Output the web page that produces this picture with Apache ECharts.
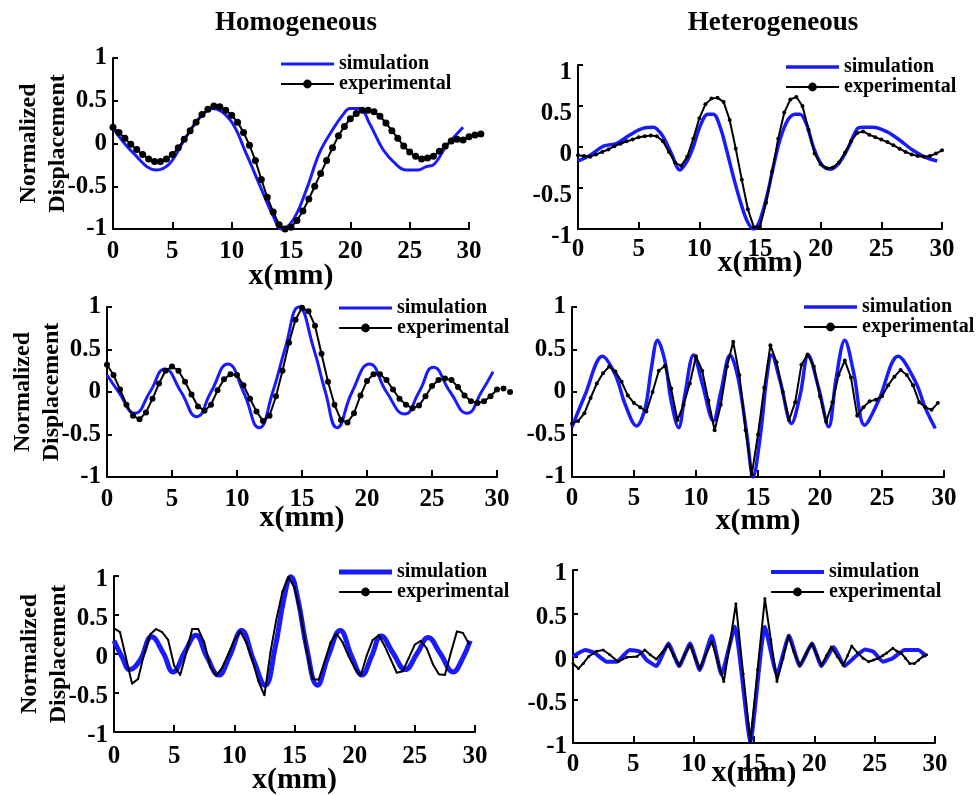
<!DOCTYPE html>
<html>
<head>
<meta charset="utf-8">
<script src="https://cdn.jsdelivr.net/npm/echarts@6/dist/echarts.min.js"></script>
<style>
html, body { margin: 0; padding: 0; background: #fff; }
#myChart { width: 980px; height: 795px; }
</style>
</head>
<body>
<div id="myChart"></div>
<script>
// ---- data (x in mm, normalized displacement) ----
var xTicks = [0, 5, 10, 15, 20, 25, 30];
var yTicks = [-1, -0.5, 0, 0.5, 1];
var expStep = 0.5; // experimental samples are listed every 0.5 mm from x = 0

// top-left: homogeneous
var sim1X = [0, 1.7, 3.65, 4.8, 6.0, 7.3, 8.4, 9.9, 11.2, 12.4, 13.5, 14.2, 15.2, 16.3, 17.4, 18.5, 19.4, 19.95, 20.8, 21.6, 22.75, 23.9, 24.7, 25.7, 26.4, 27.0, 28.1, 29.5];
var sim1Y = [0.18, -0.11, -0.31, -0.23, 0.04, 0.30, 0.41, 0.27, -0.11, -0.5, -0.85, -1.0, -0.89, -0.54, -0.11, 0.16, 0.34, 0.41, 0.41, 0.24, -0.07, -0.25, -0.31, -0.31, -0.27, -0.25, -0.03, 0.19];
var exp1 = [0.19, 0.13, 0.06, -0.01, -0.07, -0.13, -0.18, -0.21, -0.21, -0.18,
  -0.13, -0.05, 0.05, 0.15, 0.25, 0.34, 0.40, 0.44, 0.43, 0.39,
  0.33, 0.25, 0.13, -0.02, -0.20, -0.42, -0.63, -0.80, -0.95, -1.00,
  -0.98, -0.90, -0.79, -0.65, -0.50, -0.35, -0.20, -0.05, 0.09, 0.20,
  0.29, 0.35, 0.39, 0.39, 0.37, 0.32, 0.24, 0.15, 0.06, -0.03,
  -0.10, -0.15, -0.18, -0.17, -0.15, -0.09, -0.03, 0.03, 0.05, 0.04,
  0.08, 0.10, 0.11];

// top-right: heterogeneous
var sim2X = [0, 1.0, 2.1, 3.2, 4.3, 5.4, 6.2, 6.5, 7.0, 7.7, 8.4, 9.0, 9.5, 10.05, 10.7, 11.15, 11.7, 12.25, 12.8, 13.35, 13.9, 14.45, 14.9, 15.55, 16.1, 16.65, 17.3, 17.9, 18.3, 18.85, 19.4, 20.1, 20.8, 21.5, 22.3, 23.0, 23.5, 24.3, 25.4, 26.5, 27.6, 28.7, 29.6];
var sim2Y = [-0.17, -0.10, 0.01, 0.045, 0.15, 0.23, 0.24, 0.22, 0.13, -0.08, -0.28, -0.17, 0.0, 0.25, 0.40, 0.40, 0.25, -0.04, -0.36, -0.65, -0.89, -1.0, -0.93, -0.61, -0.24, 0.09, 0.33, 0.40, 0.40, 0.27, 0.0, -0.22, -0.27, -0.2, 0.0, 0.22, 0.24, 0.24, 0.19, 0.085, -0.04, -0.13, -0.17];
var exp2 = [-0.10, -0.11, -0.12, -0.09, -0.06, -0.03, 0.01, 0.04, 0.07, 0.09,
  0.12, 0.13, 0.14, 0.13, 0.07, -0.06, -0.19, -0.23, -0.12, 0.10,
  0.35, 0.52, 0.59, 0.60, 0.55, 0.33, -0.02, -0.40, -0.76, -0.98,
  -0.97, -0.68, -0.30, 0.10, 0.42, 0.58, 0.61, 0.50, 0.21, -0.08,
  -0.21, -0.26, -0.25, -0.19, -0.07, 0.07, 0.17, 0.19, 0.15, 0.12,
  0.09, 0.06, 0.02, -0.02, -0.06, -0.09, -0.11, -0.12, -0.11, -0.08,
  -0.04];

// middle-left: homogeneous
var sim3X = [0, 0.9, 2.15, 3.3, 4.45, 5.7, 6.9, 8.0, 9.3, 10.5, 11.7, 12.75, 13.7, 14.75, 15.9, 16.8, 17.7, 18.85, 20.2, 21.5, 22.9, 24.0, 25.1, 26.4, 27.7, 28.8, 29.7];
var sim3Y = [0.20, 0.0, -0.25, 0.0, 0.27, 0.0, -0.29, 0.0, 0.33, 0.0, -0.42, 0.0, 0.51, 1.0, 0.51, 0.0, -0.42, 0.0, 0.33, 0.0, -0.26, 0.0, 0.29, 0.0, -0.25, 0.0, 0.24];
var exp3 = [0.32, 0.20, 0.03, -0.15, -0.28, -0.32, -0.24, -0.08, 0.10, 0.25,
  0.30, 0.25, 0.12, -0.03, -0.17, -0.22, -0.15, 0.02, 0.15, 0.21,
  0.20, 0.08, -0.08, -0.23, -0.34, -0.28, -0.05, 0.25, 0.58, 0.85,
  0.99, 0.95, 0.78, 0.45, 0.12, -0.15, -0.33, -0.36, -0.25, -0.04,
  0.13, 0.21, 0.21, 0.14, 0.03, -0.08, -0.15, -0.19, -0.16, -0.05,
  0.07, 0.14, 0.16, 0.14, 0.06, -0.04, -0.11, -0.13, -0.11, -0.05,
  0.03, 0.04, 0.00];

// middle-right: heterogeneous
var sim4X = [0, 1.05, 2.45, 3.5, 4.3, 5.2, 5.9, 6.4, 6.9, 7.5, 8.0, 8.6, 9.1, 9.8, 10.5, 11.4, 12.0, 12.75, 13.4, 14.1, 14.6, 15.2, 15.7, 16.1, 16.8, 17.7, 18.4, 19.05, 19.9, 20.7, 21.3, 22.0, 22.7, 23.6, 24.7, 26.3, 27.7, 28.5, 29.3];
var sim4Y = [-0.41, -0.035, 0.42, 0.2, -0.15, -0.40, -0.19, 0.28, 0.61, 0.36, -0.11, -0.42, -0.035, 0.435, 0.10, -0.34, 0.0, 0.435, 0.16, -0.5, -1.0, -0.5, 0.16, 0.435, 0.12, -0.37, -0.035, 0.435, 0.04, -0.41, 0.16, 0.61, 0.24, -0.39, -0.11, 0.42, 0.12, -0.19, -0.43];
var exp4 = [-0.37, -0.34, -0.25, -0.07, 0.10, 0.22, 0.30, 0.24, 0.12, -0.04,
  -0.13, -0.18, -0.23, 0.00, 0.25, 0.31, 0.04, -0.33, -0.15, 0.10,
  0.42, 0.25, -0.10, -0.45, -0.15, 0.30, 0.59, 0.20, -0.45, -0.97,
  -0.50, 0.05, 0.55, 0.35, 0.00, -0.33, -0.12, 0.32, 0.44, 0.30,
  -0.05, -0.35, -0.12, 0.20, 0.37, 0.17, -0.28, -0.18, -0.11, -0.09,
  -0.05, 0.08, 0.18, 0.26, 0.20, 0.08, -0.12, -0.18, -0.21, -0.13];

// bottom-left: homogeneous
var sim5X = [0, 0.64, 1.33, 2.16, 3.13, 4.1, 4.9, 5.9, 6.8, 7.7, 8.7, 9.6, 10.6, 11.6, 12.55, 13.4, 14.1, 14.7, 15.3, 16.0, 16.9, 17.8, 18.8, 19.75, 20.6, 21.4, 22.2, 23.2, 24.2, 25.2, 26.1, 27.1, 28.2, 28.9, 29.6];
var sim5Y = [0.17, -0.03, -0.2, -0.08, 0.22, 0.01, -0.23, 0.03, 0.24, -0.03, -0.27, -0.03, 0.30, -0.08, -0.40, 0.09, 0.69, 0.99, 0.69, 0.09, -0.40, -0.03, 0.30, -0.03, -0.27, -0.03, 0.23, 0.01, -0.2, 0.01, 0.21, 0.01, -0.23, -0.08, 0.17];
var exp5 = [0.33, 0.28, -0.05, -0.38, -0.32, 0.00, 0.25, 0.32, 0.28, 0.18,
  -0.15, -0.27, 0.01, 0.32, 0.32, 0.15, -0.16, -0.28, -0.17, 0.00,
  0.18, 0.29, 0.14, -0.08, -0.35, -0.53, 0.02, 0.45, 0.80, 0.99,
  0.85, 0.52, 0.05, -0.32, -0.33, -0.10, 0.15, 0.26, 0.15, -0.03,
  -0.18, -0.28, -0.02, 0.18, 0.24, 0.10, -0.07, -0.24, -0.22, -0.05,
  0.12, 0.17, 0.07, -0.13, -0.26, -0.27, 0.02, 0.29, 0.27, 0.13];

// bottom-right: heterogeneous (experimental listed with its own x positions)
var sim6X = [0, 1.0, 1.8, 2.8, 3.6, 4.7, 5.55, 6.1, 6.9, 7.9, 8.8, 9.7, 10.5, 11.5, 12.3, 13.4, 14.7, 15.9, 16.9, 17.9, 18.8, 19.8, 20.6, 21.6, 22.5, 23.4, 24.2, 24.9, 25.7, 26.5, 27.5, 28.6, 29.3];
var sim6Y = [0.0, 0.075, 0.04, -0.06, -0.06, 0.075, 0.055, -0.04, -0.11, 0.15, -0.11, 0.15, -0.155, 0.24, -0.21, 0.345, -0.985, 0.345, -0.21, 0.24, -0.11, 0.15, -0.11, 0.11, -0.11, 0.0, 0.08, 0.055, -0.06, -0.02, 0.075, 0.075, 0.0];
var exp6X = [0, 0.45, 0.85, 1.3, 1.95, 2.5, 3.05, 3.75, 4.45, 5.3, 5.95, 6.4, 6.9, 7.4, 7.9, 8.35, 8.8, 9.25, 9.7, 10.1, 10.5, 11.0, 11.5, 12.0, 12.5, 13.0, 13.5, 14.1, 14.7, 15.3, 15.9, 16.4, 16.9, 17.4, 17.85, 18.3, 18.8, 19.3, 19.8, 20.2, 20.6, 21.0, 21.4, 21.9, 22.4, 22.75, 23.1, 23.6, 24.05, 24.5, 24.9, 25.3, 25.65, 26.0, 26.5, 26.85, 27.2, 27.55, 27.9, 28.3, 28.65, 29.0, 29.3];
var exp6Y = [-0.08, -0.14, -0.08, 0.0, 0.06, 0.075, 0.02, -0.06, -0.01, 0.0, 0.075, 0.02, -0.03, 0.05, 0.13, 0.01, -0.10, 0.02, 0.13, -0.01, -0.14, 0.02, 0.17, -0.06, -0.29, 0.15, 0.61, -0.20, -0.985, -0.15, 0.67, 0.19, -0.29, -0.02, 0.24, 0.06, -0.10, 0.03, 0.15, 0.02, -0.10, 0.01, 0.11, 0.0, -0.10, 0.01, 0.12, 0.04, -0.02, -0.06, -0.04, -0.02, 0.01, 0.04, 0.095, 0.06, 0.04, -0.02, -0.08, -0.08, -0.04, 0.0, 0.02];

var colTitles = ['Homogeneous', 'Heterogeneous'];
var simName = 'simulation';
var expName = 'experimental';

// helpers
function zip(xs, ys) {
  return xs.map(function (x, i) { return [x, ys[i]]; });
}
function sampled(ys) {
  return ys.map(function (y, i) { return [i * expStep, y]; });
}

// ---- panel layout (pixels) ----
var panels = [
  { grid: { left: 113, top: 58, width: 356, height: 171 }, sim: zip(sim1X, sim1Y), exp: sampled(exp1),
    lblMargin: 10, nameGap: 32, yOff: 0, legend: { left: 275, top: 49 }, dot: 7, simW: 3, smooth: 0.4, yName: true },
  { grid: { left: 578, top: 65, width: 364, height: 164 }, sim: zip(sim2X, sim2Y), exp: sampled(exp2),
    lblMargin: 8, nameGap: 19, yOff: 8, legend: { left: 780, top: 52 }, dot: 4, simW: 3.5, smooth: 0.35, yName: false },
  { grid: { left: 107, top: 307, width: 390, height: 170 }, sim: zip(sim3X, sim3Y), exp: sampled(exp3),
    lblMargin: 10, nameGap: 26, yOff: 0, legend: { left: 333, top: 293 }, dot: 6, simW: 3, smooth: 0.5, yName: true },
  { grid: { left: 572, top: 307, width: 372, height: 170 }, sim: zip(sim4X, sim4Y), exp: sampled(exp4),
    lblMargin: 9, nameGap: 29, yOff: 0, legend: { left: 798, top: 292 }, dot: 4, simW: 3.5, smooth: 0.35, yName: false },
  { grid: { left: 114, top: 576, width: 361, height: 156 }, sim: zip(sim5X, sim5Y), exp: sampled(exp5),
    lblMargin: 12, nameGap: 33, yOff: 4, legend: { left: 333, top: 557 }, dot: 2, simW: 5, smooth: 0.45, yName: true },
  { grid: { left: 573, top: 570, width: 362, height: 173 }, sim: zip(sim6X, sim6Y), exp: zip(exp6X, exp6Y),
    lblMargin: 9, nameGap: 15, yOff: 4, legend: { left: 765, top: 557 }, dot: 3, simW: 4, smooth: 0.15, yName: false }
];

var FONT = 'Liberation Serif';
var blue = '#1a1aff';

var option = {
  animation: false,
  backgroundColor: '#fff',
  graphic: [
    { type: 'text', x: 296, y: 23, style: { text: colTitles[0], fill: '#000', font: 'bold 27px "Liberation Serif"', textAlign: 'center', textVerticalAlign: 'middle' } },
    { type: 'text', x: 773, y: 23, style: { text: colTitles[1], fill: '#000', font: 'bold 27px "Liberation Serif"', textAlign: 'center', textVerticalAlign: 'middle' } }
  ],
  grid: [], xAxis: [], yAxis: [], legend: [], series: []
};

panels.forEach(function (p, i) {
  option.grid.push(Object.assign({ outerBoundsMode: 'none', containLabel: false }, p.grid));
  option.xAxis.push({
    type: 'value', gridIndex: i, min: xTicks[0], max: xTicks[xTicks.length - 1], interval: xTicks[1] - xTicks[0],
    name: 'x(mm)', nameLocation: 'middle', nameGap: p.nameGap, nameMoveOverlap: false,
    nameTextStyle: { color: '#000', fontFamily: FONT, fontWeight: 'bold', fontSize: 30 },
    axisLine: { show: true, onZero: false, lineStyle: { color: '#000', width: 2 } },
    axisTick: { show: true, inside: true, length: 7, lineStyle: { color: '#000', width: 2 } },
    axisLabel: { color: '#000', fontFamily: FONT, fontWeight: 'bold', fontSize: 25, margin: p.lblMargin, showMinLabel: true, showMaxLabel: true },
    splitLine: { show: false }
  });
  // some panels have their y tick labels sitting a few px below the ticks
  var yLabel = { color: '#000', fontFamily: FONT, fontWeight: 'bold', fontSize: 25, margin: 6 };
  if (p.yOff > 0) {
    yLabel.verticalAlign = 'top';
    yLabel.lineHeight = p.yOff * 2;
  }
  option.yAxis.push({
    type: 'value', gridIndex: i, min: yTicks[0], max: yTicks[yTicks.length - 1], interval: yTicks[1] - yTicks[0],
    name: p.yName ? 'Normalized\nDisplacement' : '', nameLocation: 'middle', nameGap: 41, nameMoveOverlap: false,
    nameTextStyle: { color: '#000', fontFamily: FONT, fontWeight: 'bold', fontSize: 24, lineHeight: 29 },
    axisLine: { show: true, onZero: false, lineStyle: { color: '#000', width: 2 } },
    axisTick: { show: true, inside: true, length: 5, lineStyle: { color: '#000', width: 2 } },
    axisLabel: yLabel,
    splitLine: { show: false }
  });
  option.legend.push({
    left: p.legend.left, top: p.legend.top, orient: 'vertical', itemGap: 0,
    itemWidth: 53, itemHeight: 11, selectedMode: false,
    textStyle: { color: '#000', fontFamily: FONT, fontWeight: 'bold', fontSize: 20 },
    data: [
      // plain bar for the simulation line (no marker)
      { name: simName, icon: 'path://M0,0H53V' + p.simW + 'H0Z', itemStyle: { color: blue } },
      { name: expName, lineStyle: { color: '#000', width: 2 }, itemStyle: { color: '#000' } }
    ]
  });
  option.series.push({
    name: simName, type: 'line', xAxisIndex: i, yAxisIndex: i, data: p.sim,
    showSymbol: false, symbol: 'none', smooth: p.smooth, clip: false,
    lineStyle: { color: blue, width: p.simW }, itemStyle: { color: blue }, z: 2
  });
  option.series.push({
    name: expName, type: 'line', xAxisIndex: i, yAxisIndex: i, data: p.exp,
    symbol: 'circle', symbolSize: p.dot, showSymbol: true, showAllSymbol: true, clip: false,
    lineStyle: { color: '#000', width: 2 }, itemStyle: { color: '#000' }, z: 3
  });
});

var myChart = echarts.init(document.getElementById('myChart'));
myChart.setOption(option);
</script>
</body>
</html>
